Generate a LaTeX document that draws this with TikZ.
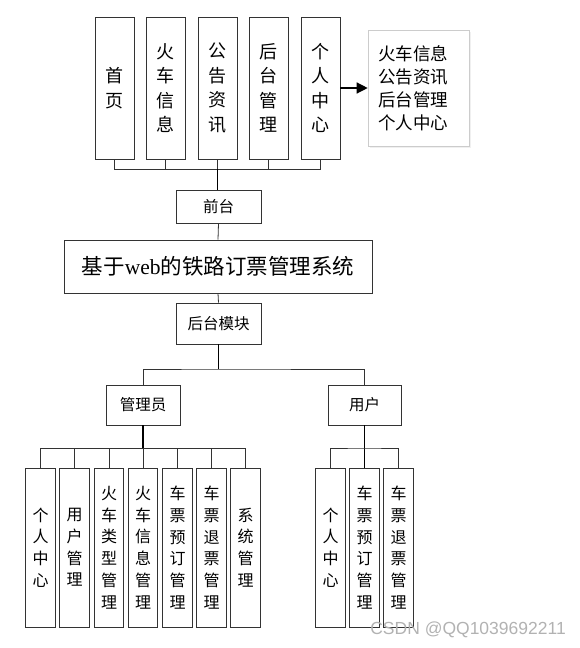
\documentclass[tikz,border=0pt]{standalone}
\usepackage{fontspec}
\newfontfamily\cjk{Noto Sans CJK SC}
\newfontfamily\latinserif{Liberation Serif}
\usetikzlibrary{shadows,arrows.meta}

\begin{document}
\begin{tikzpicture}[x=1pt,y=-1pt,
    box/.style={draw=black!80,line width=0.9pt,fill=white,inner sep=0pt,align=center},
    topcol/.style={box,minimum width=39pt,minimum height=142pt,font=\cjk\fontsize{18}{24.5}\selectfont},
    lowcol/.style={box,minimum width=29.5pt,minimum height=159pt,font=\cjk\fontsize{16}{21.7}\selectfont},
    midbox/.style={box,font=\cjk\fontsize{15.5}{18}\selectfont},
    link/.style={draw=black!80,line width=0.8pt},
    trunk/.style={draw=black,line width=1.3pt}]
    \useasboundingbox (0,0) rectangle (580,648);

    % front-end modules
    \node[topcol] (shouye) at (114.5,88) {首\\页};
    \node[topcol] (huoche) at (165.5,88) {火\\车\\信\\息};
    \node[topcol] (gonggao) at (217.5,88) {公\\告\\资\\讯};
    \node[topcol] (houtai) at (268.5,88) {后\\台\\管\\理};
    \node[topcol] (geren) at (320.5,88) {个\\人\\中\\心};

    \node[draw=black!20,fill=white,line width=0.6pt,minimum width=101pt,minimum height=116pt,
        drop shadow={opacity=0.12,shadow xshift=2pt,shadow yshift=-2pt},
        text width=81pt,align=left,inner sep=0pt,font=\cjk\fontsize{17.5}{23}\selectfont] (note) at (418.5,88)
        {火车信息\\公告资讯\\后台管理\\个人中心};
    \draw[line width=1.3pt,-{Triangle[length=11pt,width=11pt]}] (geren.east) -- (note.west);

    \node[midbox,minimum width=85pt,minimum height=33pt] (qiantai) at (218.5,206.5) {前台};
    \node[box,minimum width=308pt,minimum height=53pt,font=\cjk\fontsize{21.5}{24}\selectfont] (sys) at (218,266.5)
        {基于{\latinserif web}的铁路订票管理系统};
    \node[midbox,minimum width=85pt,minimum height=41pt] (mokuai) at (218.5,323.5) {后台模块};

    \coordinate (topbus) at (217.5,169);
    \draw[link] (shouye.south) |- (topbus) -| (geren.south);
    \draw[link] (huoche.south) |- (topbus);
    \draw[link] (houtai.south) |- (topbus);
    \draw[link] (gonggao.south) -- (topbus);
    \draw[trunk] (topbus) -- (topbus |- qiantai.north);
    \draw[link] (qiantai.south) -- (sys.north);
    \draw[link] (sys.south) -- (mokuai.north);

    % back-end roles
    \node[midbox,minimum width=74pt,minimum height=40pt] (admin) at (143,405) {管理员};
    \node[midbox,minimum width=73pt,minimum height=40pt] (user) at (364.5,405) {用户};
    \coordinate (rolebus) at (218.5,369);
    \draw[trunk] (mokuai.south) -- (rolebus);
    \draw[link] (admin.north) |- (rolebus) -| (user.north);

    % admin modules
    \node[lowcol] (a1) at (40.5,547.5) {个\\人\\中\\心};
    \node[lowcol] (a2) at (74.5,547.5) {用\\户\\管\\理};
    \node[lowcol] (a3) at (109,547.5) {火\\车\\类\\型\\管\\理};
    \node[lowcol] (a4) at (143,547.5) {火\\车\\信\\息\\管\\理};
    \node[lowcol] (a5) at (177.5,547.5) {车\\票\\预\\订\\管\\理};
    \node[lowcol] (a6) at (211.5,547.5) {车\\票\\退\\票\\管\\理};
    \node[lowcol] (a7) at (245.5,547.5) {系\\统\\管\\理};
    \coordinate (adminbus) at (143,448);
    \draw[trunk] (admin.south) -- (adminbus);
    \draw[link] (adminbus) -- (a4.north);
    \draw[link] (a1.north) |- (adminbus) -| (a7.north);
    \foreach \n in {a2,a3,a5,a6}
        \draw[link] (\n.north) |- (adminbus);

    % user modules
    \node[lowcol] (u1) at (330.5,547.5) {个\\人\\中\\心};
    \node[lowcol] (u2) at (364.5,547.5) {车\\票\\预\\订\\管\\理};
    \node[lowcol] (u3) at (398.5,547.5) {车\\票\\退\\票\\管\\理};
    \coordinate (userbus) at (364.5,448);
    \draw[trunk] (user.south) -- (u2.north);
    \draw[link] (u1.north) |- (userbus) -| (u3.north);

    \node[anchor=east,text=black!30,inner sep=0pt,font=\fontspec{Liberation Sans}\fontsize{17.5}{17.5}\selectfont] (mark) at (566,630) {CSDN @QQ1039692211};
\end{tikzpicture}
\end{document}
